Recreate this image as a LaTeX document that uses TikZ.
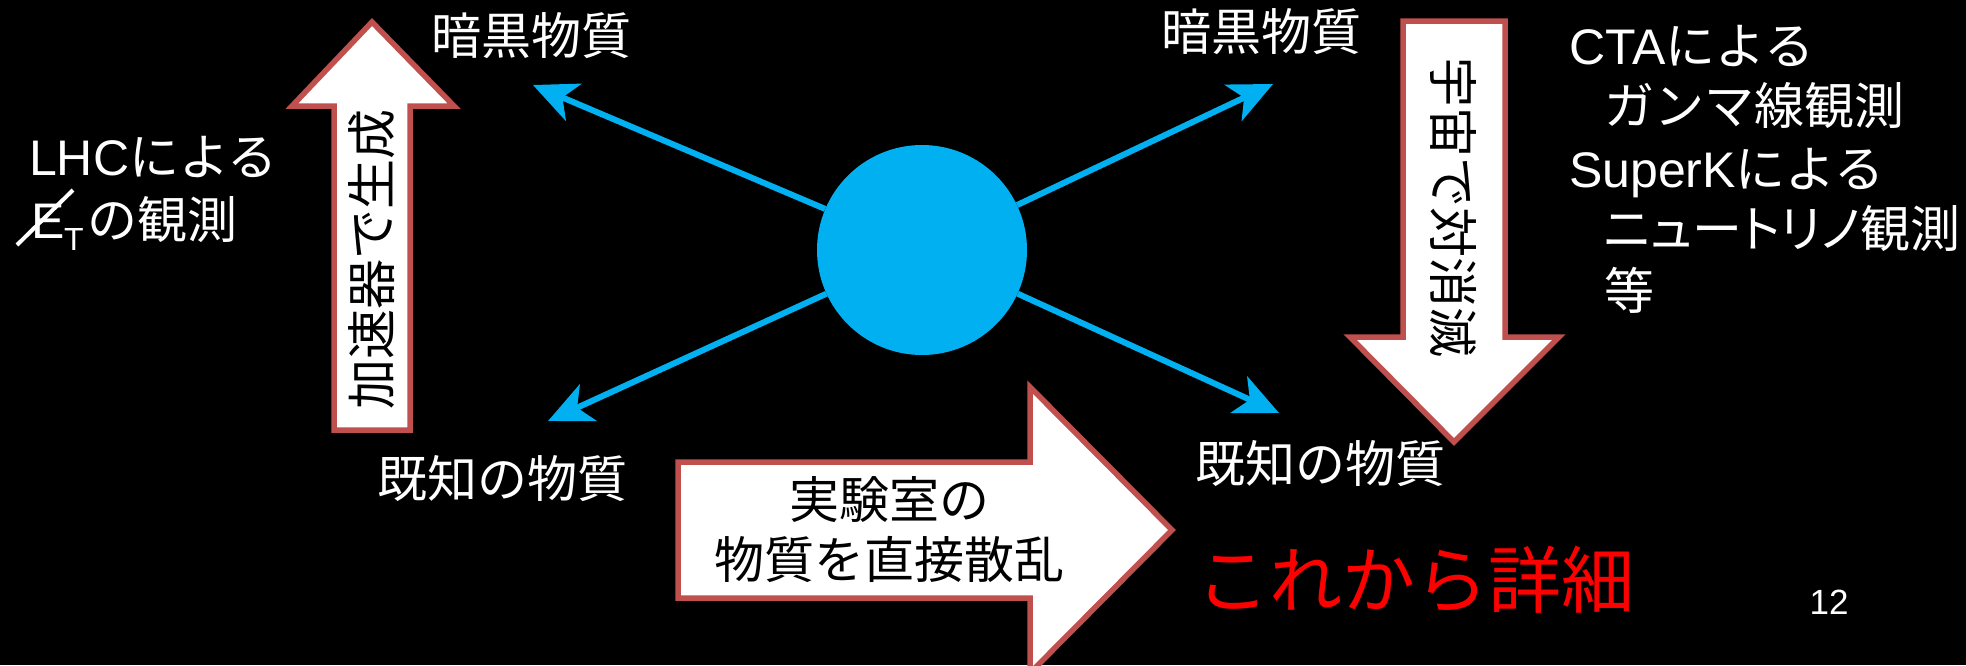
\documentclass[tikz,border=0pt]{standalone}
\usepackage{fontspec}
\setmainfont{Liberation Sans}
\newfontfamily\cjk{Noto Sans CJK JP}
\newfontfamily\cjkp[RawFeature=+palt]{Noto Sans CJK JP}
\usetikzlibrary{arrows.meta}
\definecolor{skyb}{HTML}{00B0F0}
\definecolor{bord}{HTML}{C0504D}
\begin{document}
\begin{tikzpicture}[x=1pt,y=-1pt,
  lab/.style={text=white,inner sep=0pt,anchor=base west,font=\fontsize{50}{60}\selectfont},
  jlab/.style={lab,font=\cjk\fontsize{50}{60}\selectfont},
  intext/.style={text=black,inner sep=0pt,font=\cjk\fontsize{50}{60}\selectfont},
  blk/.style={fill=white,draw=bord,line width=5.5pt,line join=miter},
  ray/.style={draw=skyb,line width=6pt,-{Stealth[length=44pt,width=40pt,inset=12pt]}}]
\fill[black] (0,0) rectangle (1966,665);
\useasboundingbox (0,0) rectangle (1966,665);
\clip (0,0) rectangle (1966,665);

% block arrows
\draw[blk] (334,430) -- (334,106) -- (292,106) -- (372,22) -- (454,106) -- (410,106) -- (410,430) -- cycle;
\draw[blk] (1403,21) -- (1505,21) -- (1505,337) -- (1559,337) -- (1454,442) -- (1350,337) -- (1403,337) -- cycle;
\draw[blk] (678,462) -- (1030,462) -- (1030,387) -- (1172,530) -- (1030,673) -- (1030,598) -- (678,598) -- cycle;

\node[intext,rotate=90] (gen) at (372,259) {加速器で生成};
\node[intext,rotate=-90] (ann) at (1453,207) {宇宙で対消滅};
\node[intext,anchor=base] (lab1) at (889,518) {実験室の};
\node[intext,anchor=base] (lab2) at (889,578) {物質を直接散乱};

% central vertex and rays
\node[circle,fill=skyb,minimum size=210pt,inner sep=0pt] (c) at (922,250) {};
\coordinate (ul) at (533,85);
\coordinate (ll) at (548,421);
\coordinate (ur) at (1273,84);
\coordinate (lr) at (1279,413);
\draw[ray] (c) -- (ul);
\draw[ray] (c) -- (ll);
\draw[ray] (c) -- (ur);
\draw[ray] (c) -- (lr);

% labels
\node[jlab] (dm1) at (431,54) {暗黒物質};
\node[jlab] (dm2) at (1161,50) {暗黒物質};
\node[jlab] (km1) at (377,497) {既知の物質};
\node[jlab] (km2) at (1195,482) {既知の物質};

\node[lab] (lhc) at (29,175) {LHC{\cjk による}};
\node[lab] (E) at (31,238) {E};
\node[lab,font=\fontsize{32}{36}\selectfont] (T) at (64,250) {T};
\draw[white,line width=4pt] (17,245) -- (73,190);
\node[jlab] (obs) at (87,238) {の観測};

\node[lab] (cta) at (1569,64) {CTA{\cjk による}};
\node[jlab] (gam) at (1604,124) {ガンマ線観測};
\node[lab] (sk) at (1569,187) {SuperK{\cjk による}};
\node[lab,font=\cjkp\fontsize{50}{60}\selectfont] (nu) at (1604,247) {ニュートリノ観測};
\node[jlab] (etc) at (1604,309) {等};

\node[lab,text=red,font=\cjk\fontsize{73}{80}\selectfont] (det) at (1196,607) {これから詳細};
\node[text=white,inner sep=0pt,anchor=base,font=\fontsize{35}{40}\selectfont] (pg) at (1829,614) {12};
\end{tikzpicture}
\end{document}
